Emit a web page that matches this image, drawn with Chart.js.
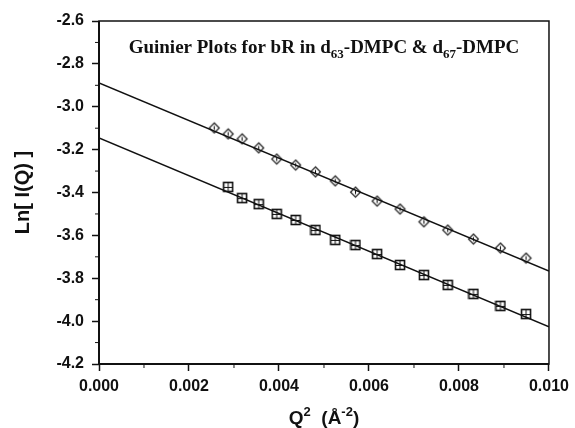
<!DOCTYPE html>
<html>
<head>
<meta charset="utf-8">
<script src="https://cdn.jsdelivr.net/npm/chart.js@4.4.1/dist/chart.umd.min.js"></script>
<style>
  html, body { margin: 0; padding: 0; background: #fff; }
  #wrap { width: 575px; height: 428px; }
</style>
</head>
<body>
<div id="wrap"><canvas id="guinier"></canvas></div>
<script>
// Q^2 (A^-2) and Ln[I(Q)]
const Q2_D63 = [0.00256, 0.00287, 0.00318, 0.00355, 0.00395, 0.00437, 0.00481, 0.00525,
                0.00570, 0.00618, 0.00669, 0.00722, 0.00775, 0.00832, 0.00892, 0.00949];
const LN_D63 = [-3.099, -3.127, -3.150, -3.192, -3.244, -3.272, -3.304, -3.346,
                -3.398, -3.440, -3.477, -3.537, -3.575, -3.617, -3.659, -3.706];

const Q2_D67 = [0.00287, 0.00318, 0.00355, 0.00395, 0.00437, 0.00481, 0.00525, 0.00570,
                0.00618, 0.00669, 0.00722, 0.00775, 0.00832, 0.00892, 0.00949];
const LN_D67 = [-3.374, -3.426, -3.454, -3.500, -3.528, -3.575, -3.621, -3.645,
                -3.687, -3.738, -3.785, -3.831, -3.873, -3.929, -3.967];

// straight-line fits, endpoints at Q^2 = 0 and 0.010
const FIT_X = [0, 0.010];
const FIT_D63 = [-2.889, -3.766];
const FIT_D67 = [-3.146, -4.027];

const X_TICKS = [0, 0.002, 0.004, 0.006, 0.008, 0.010];
const X_MINOR = [0.001, 0.003, 0.005, 0.007, 0.009];
const Y_MINOR = [-2.7, -2.9, -3.1, -3.3, -3.5, -3.7, -3.9, -4.1];

const INK = '#111';

function pairs(xs, ys) {
  return xs.map((x, i) => ({ x, y: ys[i] }));
}

function squareMarker() {
  const c = document.createElement('canvas');
  c.width = 12; c.height = 12;
  const g = c.getContext('2d');
  g.strokeStyle = INK;
  g.lineWidth = 1.6;
  g.strokeRect(1.5, 1.5, 9, 9);
  g.lineWidth = 1;
  g.beginPath();
  g.moveTo(6, 1); g.lineTo(6, 11);
  g.moveTo(2, 6.5); g.lineTo(10, 6.5);
  g.stroke();
  return c;
}

function diamondMarker() {
  const c = document.createElement('canvas');
  c.width = 13; c.height = 13;
  const g = c.getContext('2d');
  g.strokeStyle = INK;
  g.lineWidth = 1.1;
  g.beginPath();
  g.moveTo(6.5, 1.5); g.lineTo(11.5, 6.5); g.lineTo(6.5, 11.5); g.lineTo(1.5, 6.5); g.closePath();
  g.stroke();
  g.beginPath();
  g.moveTo(6.5, 4.5); g.lineTo(6.5, 8.5);
  g.stroke();
  return c;
}

function drawRuns(ctx, runs, cx, baseline) {
  const widths = runs.map((r) => { ctx.font = r.font; return ctx.measureText(r.t).width; });
  let x = cx - widths.reduce((a, b) => a + b, 0) / 2;
  runs.forEach((r, i) => {
    ctx.font = r.font;
    ctx.fillText(r.t, x, baseline + (r.dy || 0));
    x += widths[i];
  });
}

const decorPlugin = {
  id: 'decor',
  afterDraw(chart) {
    const { ctx, chartArea: a, scales } = chart;
    ctx.save();
    ctx.strokeStyle = INK;
    ctx.fillStyle = INK;

    // frame
    ctx.lineWidth = 1.5;
    ctx.strokeRect(a.left, a.top, a.right - a.left, a.bottom - a.top);
    ctx.lineWidth = 2;
    ctx.beginPath();
    ctx.moveTo(a.left, a.top); ctx.lineTo(a.left, a.bottom); ctx.lineTo(a.right, a.bottom);
    ctx.stroke();

    // minor ticks
    ctx.lineWidth = 1;
    ctx.beginPath();
    X_MINOR.forEach((v) => {
      const px = scales.x.getPixelForValue(v);
      ctx.moveTo(px, a.bottom); ctx.lineTo(px, a.bottom + 4);
    });
    Y_MINOR.forEach((v) => {
      const py = scales.y.getPixelForValue(v);
      ctx.moveTo(a.left, py); ctx.lineTo(a.left - 4, py);
    });
    ctx.stroke();

    // title inside the plot
    ctx.textAlign = 'left';
    ctx.textBaseline = 'alphabetic';
    const big = 'bold 19px "Liberation Serif", "Times New Roman", serif';
    const small = 'bold 13px "Liberation Serif", "Times New Roman", serif';
    drawRuns(ctx, [
      { t: 'Guinier Plots for bR in d', font: big },
      { t: '63', font: small, dy: 5 },
      { t: '-DMPC & d', font: big },
      { t: '67', font: small, dy: 5 },
      { t: '-DMPC', font: big },
    ], (a.left + a.right) / 2, 53);

    // x axis title
    const ax = 'bold 19px "Liberation Sans", Arial, sans-serif';
    const axs = 'bold 13px "Liberation Sans", Arial, sans-serif';
    drawRuns(ctx, [
      { t: 'Q', font: ax },
      { t: '2', font: axs, dy: -8 },
      { t: '  (\u00C5', font: ax },
      { t: '-2', font: axs, dy: -8 },
      { t: ')', font: ax },
    ], (a.left + a.right) / 2, 424);

    // y axis title
    ctx.translate(23, (a.top + a.bottom) / 2);
    ctx.rotate(-Math.PI / 2);
    ctx.font = 'bold 20px "Liberation Sans", Arial, sans-serif';
    ctx.textAlign = 'center';
    ctx.textBaseline = 'middle';
    ctx.fillText('Ln[ I(Q) ]', 0, 0);
    ctx.restore();
  },
};

const tickFont = { family: '"Liberation Sans", Arial, sans-serif', size: 16, weight: 'bold' };

new Chart(document.getElementById('guinier'), {
  type: 'scatter',
  data: {
    datasets: [
      {
        label: 'fit d63',
        type: 'line',
        data: pairs(FIT_X, FIT_D63),
        borderColor: INK,
        borderWidth: 1.5,
        pointRadius: 0,
        fill: false,
      },
      {
        label: 'fit d67',
        type: 'line',
        data: pairs(FIT_X, FIT_D67),
        borderColor: INK,
        borderWidth: 1.5,
        pointRadius: 0,
        fill: false,
      },
      {
        label: 'd63-DMPC',
        data: pairs(Q2_D63, LN_D63),
        pointStyle: diamondMarker(),
        pointRadius: 6,
      },
      {
        label: 'd67-DMPC',
        data: pairs(Q2_D67, LN_D67),
        pointStyle: squareMarker(),
        pointRadius: 6,
      },
    ],
  },
  options: {
    animation: false,
    responsive: true,
    maintainAspectRatio: false,
    layout: { padding: { left: 0, top: 21, right: 23, bottom: 0 } },
    plugins: {
      legend: { display: false },
      tooltip: { enabled: false },
    },
    scales: {
      x: {
        type: 'linear',
        min: 0,
        max: 0.010,
        afterFit: (scale) => { scale.height = 64; },
        afterBuildTicks: (scale) => { scale.ticks = X_TICKS.map((value) => ({ value })); },
        ticks: {
          color: INK,
          font: tickFont,
          padding: 6,
          maxRotation: 0,
          callback: (v) => Number(v).toFixed(3),
        },
        grid: { drawOnChartArea: false, tickLength: 7, tickColor: INK, tickWidth: 1.5 },
        border: { display: false },
      },
      y: {
        type: 'linear',
        min: -4.2,
        max: -2.6,
        afterFit: (scale) => { scale.width = 99; },
        ticks: {
          stepSize: 0.2,
          color: INK,
          font: tickFont,
          padding: 8,
          callback: (v) => Number(v).toFixed(1),
        },
        grid: { drawOnChartArea: false, tickLength: 7, tickColor: INK, tickWidth: 1.5 },
        border: { display: false },
      },
    },
  },
  plugins: [decorPlugin],
});
</script>
</body>
</html>
